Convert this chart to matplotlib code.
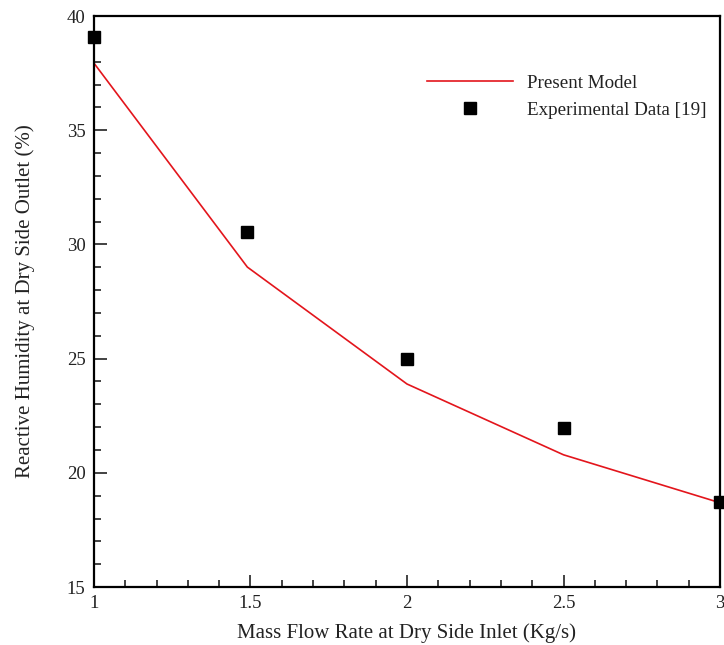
import matplotlib
matplotlib.use("Agg")
import matplotlib.pyplot as plt
from matplotlib.ticker import MultipleLocator

plt.rcParams['font.family'] = ['Liberation Serif', 'DejaVu Serif']

model_x = [1.0, 1.49, 2.0, 2.5, 3.0]
model_y = [37.94, 29.01, 23.89, 20.79, 18.69]
exp_x = [1.0, 1.49, 2.0, 2.5, 3.0]
exp_y = [39.07, 30.54, 24.99, 21.97, 18.73]
x_ticks = [1, 1.5, 2, 2.5, 3]
x_tick_labels = ["1", "1.5", "2", "2.5", "3"]
y_ticks = [15, 20, 25, 30, 35, 40]
y_tick_labels = ["15", "20", "25", "30", "35", "40"]

fig = plt.figure(figsize=(7.24, 6.45), dpi=100)
ax = fig.add_axes([0.1298, 0.0899, 0.8647, 0.8851])

ax.plot(model_x, model_y, color='#e3151c', lw=1.2, label='Present Model', zorder=2)
ax.plot(exp_x, exp_y, 's', color='black', ms=8.5, label='Experimental Data [19]',
        clip_on=False, zorder=3)

ax.set_xlim(1, 3)
ax.set_ylim(15, 40)
ax.set_xticks(x_ticks)
ax.set_xticklabels(x_tick_labels)
ax.set_yticks(y_ticks)
ax.set_yticklabels(y_tick_labels)
ax.xaxis.set_minor_locator(MultipleLocator(0.1))
ax.yaxis.set_minor_locator(MultipleLocator(1))
ax.tick_params(which='both', direction='in', top=False, right=False, width=1.2,
               labelsize=13.5, colors='#222222')
ax.tick_params(which='major', length=9, pad=6)
ax.tick_params(which='minor', length=5)
for s in ax.spines.values():
    s.set_linewidth(1.6)

ax.set_xlabel('Mass Flow Rate at Dry Side Inlet (Kg/s)', fontsize=15, labelpad=8, color='#222222')
ax.set_ylabel('Reactive Humidity at Dry Side Outlet (%)', fontsize=15, labelpad=23, color='#222222')

leg = ax.legend(loc='upper left', bbox_to_anchor=(0.505, 0.928), frameon=False,
                fontsize=13.7, handlelength=4.5, handletextpad=0.75, labelspacing=0.5,
                numpoints=1)
for t in leg.get_texts():
    t.set_color('#222222')

fig.savefig('out.png', dpi=100)
